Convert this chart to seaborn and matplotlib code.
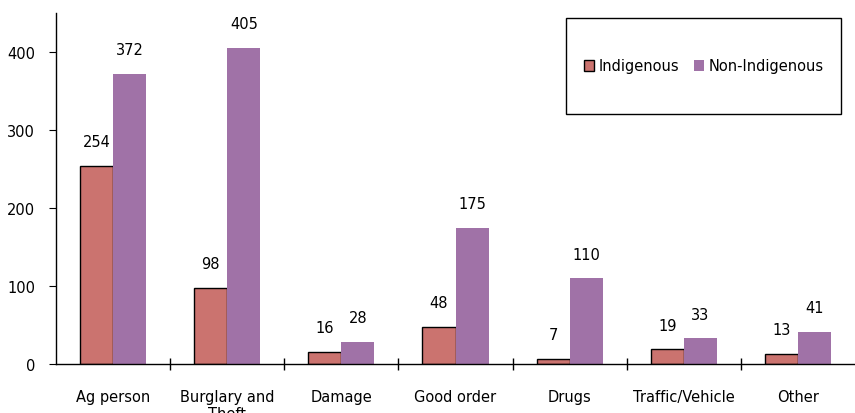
import numpy as np
import pandas as pd
import matplotlib
matplotlib.use("Agg")
import matplotlib.pyplot as plt
import seaborn as sns
from matplotlib.patches import Rectangle

# chart data
categories = ["Ag person", "Burglary and\nTheft", "Damage", "Good order", "Drugs", "Traffic/Vehicle", "Other"]
indigenous = [254, 98, 16, 48, 7, 19, 13]
non_indigenous = [372, 405, 28, 175, 110, 33, 41]
series = ["Indigenous", "Non-Indigenous"]
colors = ["#CB736F", "#A072A7"]

df = pd.DataFrame({
    "Category": categories * 2,
    "Group": [series[0]] * len(categories) + [series[1]] * len(categories),
    "Count": indigenous + non_indigenous,
})

sns.set_style("white")
plt.rcParams["font.family"] = ["DejaVu Sans"]
plt.rcParams["text.color"] = "black"
plt.rcParams["xtick.color"] = "black"
plt.rcParams["ytick.color"] = "black"
plt.rcParams["xtick.labelcolor"] = "black"
plt.rcParams["ytick.labelcolor"] = "black"

fig = plt.figure(figsize=(8.55, 4.14), dpi=100)
ax = fig.add_axes([56 / 855, 49 / 414, 1 - 56 / 855, 351 / 414])

sns.barplot(data=df, x="Category", y="Count", hue="Group", palette=colors,
            width=0.58, saturation=1, legend=False, ax=ax)

# black outline only on the Indigenous bars
for i, container in enumerate(ax.containers):
    for p in container:
        if i == 0:
            p.set_edgecolor("black")
            p.set_linewidth(1.0)
        else:
            p.set_edgecolor("none")
    ax.bar_label(container, padding=12, fontsize=10.5, color="black")

ax.set_ylim(0, 450)
ax.set_xlim(-0.5, 6.5)
ax.set_yticks([0, 100, 200, 300, 400])
ax.set_xlabel("")
ax.set_ylabel("")
sns.despine(ax=ax)
for s in ["left", "bottom"]:
    ax.spines[s].set_color("black")
    ax.spines[s].set_linewidth(1.0)

ax.tick_params(axis="y", left=True, direction="out", length=5, labelsize=10.5, pad=10)
ax.tick_params(axis="x", which="major", length=0, labelsize=10.5, pad=18)
ax.set_xticks(np.arange(0.5, 6.5), minor=True)
ax.tick_params(axis="x", which="minor", bottom=True, direction="inout", length=9, width=1)

# legend box
fig.patches.append(Rectangle((566 / 855, 299 / 414), 275 / 855, 96 / 414,
                             transform=fig.transFigure, fill=False,
                             edgecolor="black", linewidth=1.0))
handles = [
    Rectangle((0, 0), 1, 1, facecolor=colors[0], edgecolor="black", linewidth=1.0),
    Rectangle((0, 0), 1, 1, facecolor=colors[1], edgecolor="none"),
]
fig.legend(handles, series, loc="center", ncol=2,
           bbox_to_anchor=(566 / 855, 299 / 414, 275 / 855, 96 / 414),
           frameon=False, fontsize=10.5, handlelength=0.7, handleheight=0.7,
           handletextpad=0.3, columnspacing=1.0)

fig.savefig("out.png", dpi=100)
